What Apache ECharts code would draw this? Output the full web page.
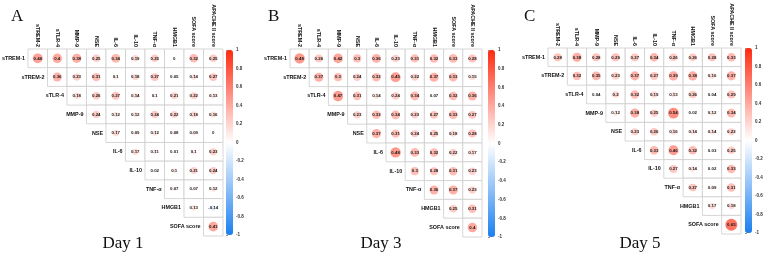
<!DOCTYPE html>
<html>
<head>
<meta charset="utf-8">
<script src="https://cdn.jsdelivr.net/npm/echarts@6/dist/echarts.min.js"></script>
<style>
    html, body { margin: 0; padding: 0; background: #fff; }
    #chart { width: 767px; height: 256px; }
</style>
</head>
<body>
<div id="chart"></div>
<script>
// variables, rows go top to bottom, columns left to right
const rowNames = ['sTREM-1', 'sTREM-2', 'sTLR-4', 'MMP-9', 'NSE', 'IL-6', 'IL-10', 'TNF-α', 'HMGB1', 'SOFA score'];
const colNames = ['sTREM-2', 'sTLR-4', 'MMP-9', 'NSE', 'IL-6', 'IL-10', 'TNF-α', 'HMGB1', 'SOFA score', 'APACHE II score'];
const barTicks = [-1, 1, 0.2];

// correlation values, row i starts at column i (upper triangle)
const day1 = [
    [0.44, 0.4, 0.38, 0.25, 0.34, 0.19, 0.25, 0, 0.32, 0.25],
    [0.36, 0.23, 0.31, 0.1, 0.18, 0.27, 0.05, 0.14, 0.27],
    [0.18, 0.26, 0.27, 0.14, 0.1, 0.21, 0.22, 0.13],
    [0.24, 0.12, 0.12, 0.24, 0.22, 0.18, 0.16],
    [0.17, 0.09, 0.12, 0.08, 0.09, 0],
    [0.17, 0.11, 0.01, 0.1, 0.23],
    [0.02, 0.1, 0.21, 0.24],
    [0.07, 0.07, 0.12],
    [0.13, -0.14],
    [0.41]
];
const day3 = [
    [0.48, 0.26, 0.42, 0.3, 0.36, 0.23, 0.31, 0.32, 0.33, 0.28],
    [0.37, 0.3, 0.24, 0.32, 0.45, 0.22, 0.37, 0.33, 0.15],
    [0.47, 0.31, 0.14, 0.24, 0.34, 0.07, 0.32, 0.36],
    [0.23, 0.32, 0.34, 0.23, 0.27, 0.33, 0.27],
    [0.37, 0.31, 0.24, 0.25, 0.18, 0.28],
    [0.48, 0.33, 0.32, 0.22, 0.17],
    [0.3, 0.28, 0.31, 0.23],
    [0.36, 0.37, 0.23],
    [0.25, 0.31],
    [0.4]
];
const day5 = [
    [0.28, 0.38, 0.28, 0.29, 0.27, 0.34, 0.26, 0.26, 0.28, 0.33],
    [0.32, 0.35, 0.23, 0.37, 0.27, 0.39, 0.38, 0.16, 0.37],
    [0.04, 0.2, 0.32, 0.19, 0.13, 0.26, 0.04, 0.29],
    [0.12, 0.38, 0.25, 0.54, 0.02, 0.12, 0.34],
    [0.23, 0.26, 0.16, 0.14, 0.14, 0.22],
    [0.33, 0.46, 0.32, 0.03, 0.25],
    [0.27, 0.14, 0.02, 0.33],
    [0.27, 0.09, 0.31],
    [0.17, 0.18],
    [0.65]
];
const letters = ['A', 'B', 'C'];
const dayLabels = ['Day 1', 'Day 3', 'Day 5'];

// layout of the three panels
const panels = [
    { rows: day1, left: 28, top: 49, width: 195, height: 187, bar: [226, 50, 7, 185], letter: [11, 8], day: [123, 244] },
    { rows: day3, left: 290, top: 49, width: 192, height: 188, bar: [488, 50, 7, 187], letter: [268, 8], day: [381, 244] },
    { rows: day5, left: 548, top: 48, width: 193, height: 186, bar: [745, 48, 7, 185], letter: [524, 8], day: [640, 244] }
];

const font = 'Liberation Sans, Arial, sans-serif';
const serif = 'Liberation Serif, Times New Roman, serif';

const chart = echarts.init(document.getElementById('chart'), null, { renderer: 'canvas' });

const renderCell = (params, api) => {
    const v = api.value(2);
    const c = api.coord([api.value(0), api.value(1)]);
    const s = api.size([1, 1]);
    const r = Math.sqrt(Math.abs(v)) * Math.min(s[0], s[1]) / 2 * 0.8;
    return {
        type: 'group',
        children: [
            {
                type: 'rect',
                shape: { x: c[0] - s[0] / 2, y: c[1] - s[1] / 2, width: s[0], height: s[1] },
                style: { fill: '#fff', stroke: '#cdcdcd', lineWidth: 0.8 }
            },
            {
                type: 'circle',
                shape: { cx: c[0], cy: c[1], r: r },
                style: { fill: api.visual('color') }
            },
            {
                type: 'text',
                style: {
                    text: String(v), x: c[0], y: c[1], align: 'center', verticalAlign: 'middle',
                    font: 'bold 4.4px ' + font, fill: '#1a1a1a'
                }
            }
        ]
    };
};

const renderRowName = (params, api) => {
    const c = api.coord([api.value(0), api.value(1)]);
    const s = api.size([1, 1]);
    return {
        type: 'text',
        style: {
            text: rowNames[api.value(1)], x: c[0] - s[0] / 2 - 3, y: c[1],
            align: 'right', verticalAlign: 'middle', font: 'bold 5.4px ' + font, fill: '#111'
        }
    };
};

const grid = [], xAxis = [], yAxis = [], series = [], visualMap = [], graphic = [];

panels.forEach((p, k) => {
    const g = k * 2;
    grid.push({ left: p.left, top: p.top, width: p.width, height: p.height });
    grid.push({ left: p.bar[0], top: p.bar[1], width: p.bar[2], height: p.bar[3] });

    xAxis.push({
        gridIndex: g, type: 'category', data: colNames, position: 'top',
        axisLine: { show: false }, axisTick: { show: false }, splitLine: { show: false },
        axisLabel: { interval: 0, rotate: 90, margin: 2, fontSize: 5.4, fontWeight: 'bold', fontFamily: font, color: '#111' }
    });
    yAxis.push({ gridIndex: g, type: 'category', data: rowNames, inverse: true, show: false });

    xAxis.push({ gridIndex: g + 1, type: 'value', show: false });
    yAxis.push({
        gridIndex: g + 1, type: 'value', position: 'right',
        min: barTicks[0], max: barTicks[1], interval: barTicks[2],
        axisLine: { show: false }, splitLine: { show: false },
        axisTick: { show: true, length: 2, lineStyle: { color: '#444', width: 0.6 } },
        axisLabel: { fontSize: 4.5, margin: 3, fontFamily: font, fontWeight: 'bold', color: '#333' }
    });

    const data = [];
    p.rows.forEach((row, i) => {
        row.forEach((v, j) => data.push([i + j, i, v]));
    });
    const cellIndex = series.length;
    series.push({
        type: 'custom', xAxisIndex: g, yAxisIndex: g,
        renderItem: renderCell, encode: { x: 0, y: 1 }, data: data, silent: true
    });
    series.push({
        type: 'custom', xAxisIndex: g, yAxisIndex: g,
        renderItem: renderRowName, encode: { x: 0, y: 1 },
        data: rowNames.map((n, i) => [i, i]), silent: true
    });

    visualMap.push({
        type: 'continuous', min: -1, max: 1, dimension: 2, seriesIndex: cellIndex,
        calculable: false, text: null, showLabel: false, padding: 0,
        left: p.bar[0], top: p.bar[1], itemWidth: p.bar[2], itemHeight: p.bar[3],
        inRange: { color: ['#1a7ff0', '#ffffff', '#ff2a10'] }
    });

    graphic.push({
        type: 'text', x: p.letter[0], y: p.letter[1],
        style: { text: letters[k], font: '17px ' + serif, fill: '#111' }
    });
    graphic.push({
        type: 'text', x: p.day[0], y: p.day[1],
        style: { text: dayLabels[k], font: '17px ' + serif, fill: '#111', align: 'center', verticalAlign: 'middle' }
    });
});

chart.setOption({
    backgroundColor: '#fff',
    animation: false,
    grid: grid,
    xAxis: xAxis,
    yAxis: yAxis,
    visualMap: visualMap,
    series: series,
    graphic: graphic
});
</script>
</body>
</html>
